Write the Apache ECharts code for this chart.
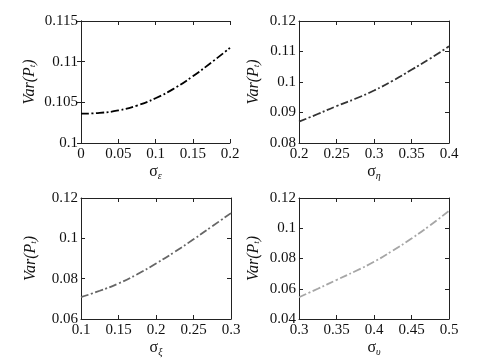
<!DOCTYPE html>
<html><head><meta charset="utf-8">
<script src="https://cdn.jsdelivr.net/npm/echarts@6/dist/echarts.min.js"></script>
<style>html,body{margin:0;padding:0;background:#fff}#c{width:483px;height:363px}</style>
</head><body><div id="c"></div>
<script>
// Data
const x1 = [0, 0.025, 0.05, 0.075, 0.1, 0.125, 0.15, 0.175, 0.2];
const y1 = [0.1036, 0.1037, 0.1040, 0.1046, 0.1055, 0.1067, 0.1082, 0.1099, 0.1117];
const x2 = [0.2, 0.225, 0.25, 0.275, 0.3, 0.325, 0.35, 0.375, 0.4];
const y2 = [0.0870, 0.0895, 0.0921, 0.0945, 0.0972, 0.1004, 0.1040, 0.1077, 0.1117];
const x3 = [0.1, 0.125, 0.15, 0.175, 0.2, 0.225, 0.25, 0.275, 0.3];
const y3 = [0.0708, 0.0740, 0.0776, 0.0822, 0.0875, 0.0933, 0.0995, 0.1060, 0.1125];
const x4 = [0.3, 0.325, 0.35, 0.375, 0.4, 0.425, 0.45, 0.475, 0.5];
const y4 = [0.0544, 0.0600, 0.0658, 0.0716, 0.0778, 0.0852, 0.0932, 0.1020, 0.1115];
const xRanges = [[0, 0.2, 0.05], [0.2, 0.4, 0.05], [0.1, 0.3, 0.05], [0.3, 0.5, 0.05]];
const yRanges = [[0.1, 0.115, 0.005], [0.08, 0.12, 0.01], [0.06, 0.12, 0.02], [0.04, 0.12, 0.02]];
const xNames = ['ε', 'η', 'ξ', 'υ'];
const colors = ['#000000', '#333333', '#666666', '#a6a6a6'];

const serif = 'Times New Roman, Liberation Serif, DejaVu Serif, serif';
const grids = [
  {left: 81, top: 21, width: 149, height: 122},
  {left: 299, top: 21, width: 150, height: 122},
  {left: 81, top: 198, width: 150, height: 121},
  {left: 299, top: 198, width: 150, height: 121}
];
const yGaps = [43, 37, 42, 37];
const fmt = v => String(+v.toFixed(4));
const lineCol = '#222';

const xAxis = [], yAxis = [], series = [];
const xs = [x1, x2, x3, x4], ys = [y1, y2, y3, y4];
for (let i = 0; i < 4; i++) {
  const [xmin, xmax, xint] = xRanges[i];
  const [ymin, ymax, yint] = yRanges[i];
  xAxis.push({
    type: 'value', gridIndex: i, min: xmin, max: xmax, interval: xint, position: 'bottom',
    name: '{s|σ}{sub|' + xNames[i] + '}', nameLocation: 'middle', nameGap: 20,
    nameTextStyle: {rich: {
      s: {fontFamily: serif, fontSize: 16, color: '#111'},
      sub: {fontFamily: serif, fontSize: 10, fontStyle: 'italic', color: '#111', padding: [8, 0, 0, 0]}
    }},
    axisLine: {show: true, lineStyle: {color: lineCol, width: 1}},
    axisTick: {show: true, inside: true, length: 4, lineStyle: {color: lineCol}},
    axisLabel: {fontFamily: serif, fontSize: 15, color: '#111', margin: 4, formatter: fmt},
    splitLine: {show: false}
  });
  xAxis.push({
    type: 'value', gridIndex: i, min: xmin, max: xmax, interval: xint, position: 'top',
    axisLine: {show: true, lineStyle: {color: lineCol, width: 1}},
    axisTick: {show: true, inside: true, length: 4, lineStyle: {color: lineCol}},
    axisLabel: {show: false}, splitLine: {show: false}
  });
  yAxis.push({
    type: 'value', gridIndex: i, min: ymin, max: ymax, interval: yint, position: 'left',
    name: '{v|Var(P}{sub|t}{v|)}', nameLocation: 'middle', nameGap: yGaps[i], nameRotate: 90,
    nameTextStyle: {rich: {
      v: {fontFamily: serif, fontSize: 16, fontStyle: 'italic', color: '#111'},
      sub: {fontFamily: serif, fontSize: 9, fontStyle: 'italic', color: '#111', padding: [6, 0, 0, 0]}
    }},
    axisLine: {show: true, lineStyle: {color: lineCol, width: 1}},
    axisTick: {show: true, inside: true, length: 4, lineStyle: {color: lineCol}},
    axisLabel: {fontFamily: serif, fontSize: 15, color: '#111', margin: 3, formatter: fmt},
    splitLine: {show: false}
  });
  yAxis.push({
    type: 'value', gridIndex: i, min: ymin, max: ymax, interval: yint, position: 'right',
    axisLine: {show: true, lineStyle: {color: lineCol, width: 1}},
    axisTick: {show: true, inside: true, length: 4, lineStyle: {color: lineCol}},
    axisLabel: {show: false}, splitLine: {show: false}
  });
  series.push({
    type: 'line', xAxisIndex: 2 * i, yAxisIndex: 2 * i, smooth: true, symbol: 'none',
    data: xs[i].map((x, k) => [x, ys[i][k]]),
    lineStyle: {color: colors[i], width: 1.8, type: [8, 2.5, 2, 2.5]}
  });
}

const chart = echarts.init(document.getElementById('c'), null, {renderer: 'canvas'});
chart.setOption({
  animation: false, backgroundColor: '#fff',
  grid: grids, xAxis, yAxis, series
});
</script></body></html>
